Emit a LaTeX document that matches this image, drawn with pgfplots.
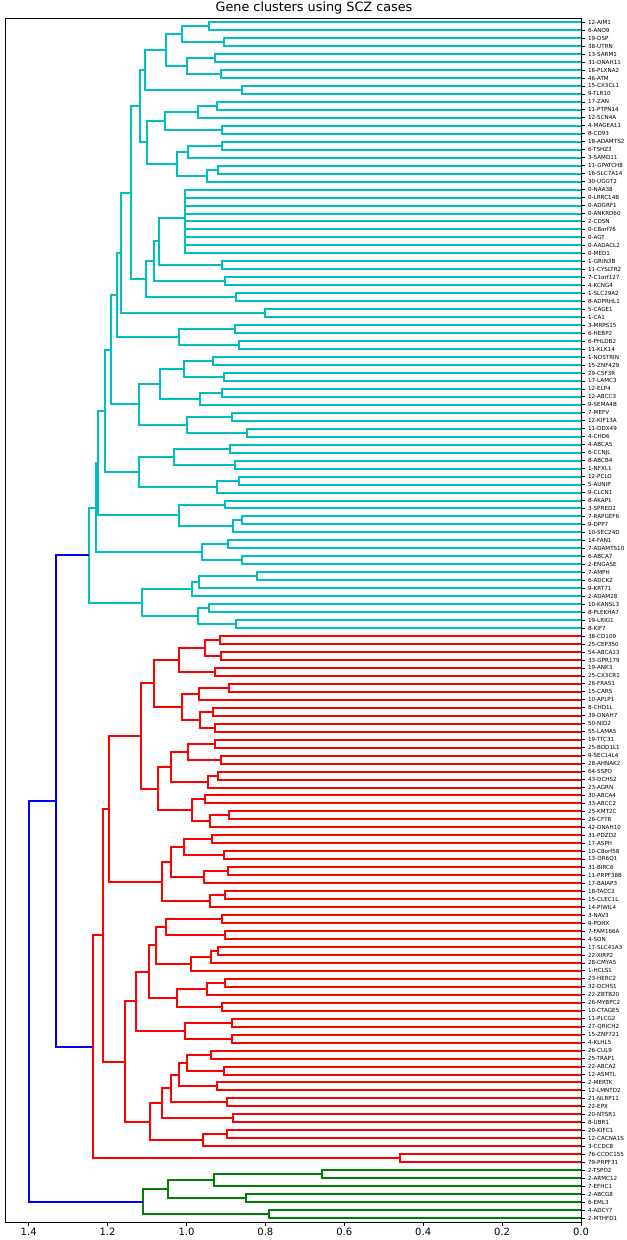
\documentclass[border=0pt]{standalone}
\usepackage{fontspec}
\setmainfont{DejaVu Sans}
\usepackage{pgfplots}
\pgfplotsset{compat=1.18}
\definecolor{dcyan}{rgb}{0,0.75,0.75}
\definecolor{dgreen}{rgb}{0,0.5,0}
\begin{document}
\begin{tikzpicture}
\useasboundingbox (0,0) rectangle (313pt,620pt);
\begin{axis}[
  at={(2.5pt,9pt)}, anchor=south west,
  scale only axis, width=288pt, height=601.9pt,
  x dir=reverse, y dir=reverse,
  xmin=0, xmax=1.46, ymin=0.5, ymax=151.5,
  unbounded coords=jump,
  axis line style={line width=0.4pt},
  tick align=outside, xtick pos=bottom, ytick pos=right,
  major tick length=1.75pt,
  every tick/.style={line width=0.4pt, black},
  xtick={0,0.2,0.4,0.6,0.8,1.0,1.2,1.4},
  /pgf/number format/assume math mode=true,
  xticklabel style={font=\fontsize{5}{6}\selectfont, /pgf/number format/fixed, /pgf/number format/fixed zerofill, /pgf/number format/precision=1, inner sep=1pt},
  ytick={1,...,151},
  yticklabel pos=right,
  yticklabel style={font=\fontsize{2.8}{3}\selectfont, inner sep=0.8pt, xshift=0.8pt},
  yticklabels={12-AIM1,6-ANO9,19-DSP,38-UTRN,13-SARM1,31-DNAH11,16-PLXNA2,46-ATM,15-CX3CL1,9-TLR10,
    17-ZAN,11-PTPN14,12-SCN4A,4-MAGEA11,8-CD93,18-ADAMTS2,6-TSHZ3,3-SAMD11,11-GPATCH8,16-SLC7A14,
    30-UGGT2,0-NAA38,0-LRRC14B,0-ADGRF1,0-ANKRD60,2-CDSN,0-C8orf76,0-AGT,0-AADACL2,0-MED1,
    1-GRIN3B,11-CYSLTR2,7-C1orf127,4-KCNG4,1-SLC29A2,8-ADPRHL1,5-CAGE1,1-CA1,3-MRPS15,6-HEBP2,
    6-PHLDB2,11-KLK14,1-NOSTRIN,15-ZNF429,29-CSF3R,17-LAMC3,12-ELP4,12-ABCC3,9-SEMA4B,7-MEFV,
    12-KIF13A,11-DDX49,4-CHD6,4-ABCA5,6-CCNJL,8-ABCB4,1-NFXL1,12-PCLO,5-AUNIP,9-CLCN1,
    8-AKAP1,3-SPRED2,7-RAPGEF6,9-DPP7,10-SEC24D,14-FAN1,7-ADAMTS10,6-ABCA7,2-ENGASE,7-AMPH,
    6-ADCK2,9-KRT71,2-ADAM28,10-KANSL3,8-PLEKHA7,19-LRIG1,8-KIF7,
    38-CD109,25-CEP350,54-ABCA13,33-GPR179,19-ANK3,25-CX3CR1,26-FRAS1,15-CARS,10-APLP1,8-CHD1L,
    39-DNAH7,50-NID2,55-LAMA5,19-TTC31,25-BOD1L1,9-SEC14L4,28-AHNAK2,64-SSPO,43-DCHS2,23-AGRN,
    30-ABCA4,33-ABCC2,25-KMT2C,26-CFTR,42-DNAH10,31-PDZD2,17-ASPH,10-C8orf58,13-OR6Q1,31-BIRC6,
    11-PRPF38B,17-BAIAP3,18-TACC2,15-CLEC1L,14-PIWIL4,3-NAV3,9-PDHX,7-FAM166A,4-SON,17-SLC41A3,
    22-XIRP2,28-CMYA5,1-HCLS1,23-HERC2,32-DCHS1,22-ZBTB20,26-MYBPC2,10-CTAGE5,11-PLCG2,27-QRICH2,
    15-ZNF721,4-KLHL5,26-CUL9,25-TRAP1,22-ABCA2,12-ASMTL,2-MERTK,12-LMNTD2,21-NLRP11,22-EPX,
    20-NTSR1,8-UBR1,20-KIFC1,12-CACNA1S,3-CCDC8,76-CCDC155,79-PRPF31,
    2-TSPO2,2-ARMC12,7-EFHC1,2-ABCG8,6-EML3,4-ADCY7,2-MTHFD1},
  every axis plot/.append style={line width=1pt, mark=none},
]
% cyan cluster
\addplot[dcyan] coordinates {
(0,1)(0.944,1)(0.944,2)(0,2)(nan,nan)
(0,3)(0.906,3)(0.906,4)(0,4)(nan,nan)
(0.944,1.5)(1.011,1.5)(1.011,3.5)(0.906,3.5)(nan,nan)
(0,5)(0.928,5)(0.928,6)(0,6)(nan,nan)
(0,7)(0.913,7)(0.913,8)(0,8)(nan,nan)
(0.928,5.5)(0.998,5.5)(0.998,7.5)(0.913,7.5)(nan,nan)
(1.011,2.5)(1.051,2.5)(1.051,6.5)(0.998,6.5)(nan,nan)
(0,9)(0.859,9)(0.859,10)(0,10)(nan,nan)
(1.051,4.5)(1.106,4.5)(1.106,9.5)(0.859,9.5)(nan,nan)
(0,11)(0.923,11)(0.923,12)(0,12)(nan,nan)
(0.923,11.5)(0.970,11.5)(0.970,13)(0,13)(nan,nan)
(0,14)(0.910,14)(0.910,15)(0,15)(nan,nan)
(0.970,12.25)(1.055,12.25)(1.055,14.5)(0.910,14.5)(nan,nan)
(0,16)(0.910,16)(0.910,17)(0,17)(nan,nan)
(0.910,16.5)(0.996,16.5)(0.996,18)(0,18)(nan,nan)
(0,19)(0.921,19)(0.921,20)(0,20)(nan,nan)
(0.921,19.5)(0.947,19.5)(0.947,21)(0,21)(nan,nan)
(0.996,17.25)(1.025,17.25)(1.025,20.25)(0.947,20.25)(nan,nan)
(1.055,13.375)(1.101,13.375)(1.101,18.75)(1.025,18.75)(nan,nan)
(1.106,7)(1.119,7)(1.119,16.0625)(1.101,16.0625)(nan,nan)
(0,22)(1.003,22)(1.003,30)(0,30)(nan,nan)
(0,23)(1.003,23)(nan,nan)(0,24)(1.003,24)(nan,nan)(0,25)(1.003,25)(nan,nan)
(0,26)(1.003,26)(nan,nan)(0,27)(1.003,27)(nan,nan)(0,28)(1.003,28)(nan,nan)
(0,29)(1.003,29)(nan,nan)
(0,31)(0.910,31)(0.910,32)(0,32)(nan,nan)
(1.003,25.5)(1.069,25.5)(1.069,31.5)(0.910,31.5)(nan,nan)
(0,33)(0.902,33)(0.902,34)(0,34)(nan,nan)
(1.069,28.5)(1.082,28.5)(1.082,33.5)(0.902,33.5)(nan,nan)
(0,35)(0.875,35)(0.875,36)(0,36)(nan,nan)
(1.082,31)(1.102,31)(1.102,35.5)(0.875,35.5)(nan,nan)
(1.119,11.531)(1.141,11.531)(1.141,33.25)(1.102,33.25)(nan,nan)
(0,37)(0.800,37)(0.800,38)(0,38)(nan,nan)
(1.141,22.391)(1.165,22.391)(1.165,37.5)(0.800,37.5)(nan,nan)
(0,39)(0.877,39)(0.877,40)(0,40)(nan,nan)
(0,41)(0.868,41)(0.868,42)(0,42)(nan,nan)
(0.877,39.5)(1.020,39.5)(1.020,41.5)(0.868,41.5)(nan,nan)
(1.165,29.945)(1.177,29.945)(1.177,40.5)(1.020,40.5)(nan,nan)
(0,43)(0.934,43)(0.934,44)(0,44)(nan,nan)
(0,45)(0.906,45)(0.906,46)(0,46)(nan,nan)
(0.934,43.5)(1.007,43.5)(1.007,45.5)(0.906,45.5)(nan,nan)
(0,47)(0.910,47)(0.910,48)(0,48)(nan,nan)
(0.910,47.5)(0.965,47.5)(0.965,49)(0,49)(nan,nan)
(1.007,44.5)(1.067,44.5)(1.067,48.25)(0.965,48.25)(nan,nan)
(0,50)(0.884,50)(0.884,51)(0,51)(nan,nan)
(0,52)(0.847,52)(0.847,53)(0,53)(nan,nan)
(0.884,50.5)(0.998,50.5)(0.998,52.5)(0.847,52.5)(nan,nan)
(1.067,46.375)(1.120,46.375)(1.120,51.5)(0.998,51.5)(nan,nan)
(1.177,35.223)(1.192,35.223)(1.192,48.938)(1.120,48.938)(nan,nan)
(0,54)(0.890,54)(0.890,55)(0,55)(nan,nan)
(0,56)(0.877,56)(0.877,57)(0,57)(nan,nan)
(0.890,54.5)(1.032,54.5)(1.032,56.5)(0.877,56.5)(nan,nan)
(0,58)(0.868,58)(0.868,59)(0,59)(nan,nan)
(0.868,58.5)(0.923,58.5)(0.923,60)(0,60)(nan,nan)
(1.032,55.5)(1.121,55.5)(1.121,59.25)(0.923,59.25)(nan,nan)
(1.192,42.080)(1.207,42.080)(1.207,57.375)(1.121,57.375)(nan,nan)
(0,61)(0.902,61)(0.902,62)(0,62)(nan,nan)
(0,63)(0.859,63)(0.859,64)(0,64)(nan,nan)
(0.859,63.5)(0.881,63.5)(0.881,65)(0,65)(nan,nan)
(0.902,61.5)(1.018,61.5)(1.018,64.25)(0.881,64.25)(nan,nan)
(1.207,49.728)(1.225,49.728)(1.225,62.875)(1.018,62.875)(nan,nan)
(0,66)(0.895,66)(0.895,67)(0,67)(nan,nan)
(0,68)(0.858,68)(0.858,69)(0,69)(nan,nan)
(0.895,66.5)(0.961,66.5)(0.961,68.5)(0.858,68.5)(nan,nan)
(1.225,56.301)(1.230,56.301)(1.230,67.5)(0.961,67.5)(nan,nan)
(0,70)(0.820,70)(0.820,71)(0,71)(nan,nan)
(0.820,70.5)(0.967,70.5)(0.967,72)(0,72)(nan,nan)
(0.967,71.25)(0.985,71.25)(0.985,73)(0,73)(nan,nan)
(0,74)(0.944,74)(0.944,75)(0,75)(nan,nan)
(0,76)(0.875,76)(0.875,77)(0,77)(nan,nan)
(0.944,74.5)(0.970,74.5)(0.970,76.5)(0.875,76.5)(nan,nan)
(0.985,72.125)(1.113,72.125)(1.113,75.5)(0.970,75.5)(nan,nan)
(1.230,61.901)(1.246,61.901)(1.246,73.813)(1.113,73.813)
};
% red cluster
\addplot[red] coordinates {
(0,78)(0.916,78)(0.916,79)(0,79)(nan,nan)
(0,80)(0.913,80)(0.913,81)(0,81)(nan,nan)
(0.916,78.5)(0.954,78.5)(0.954,80.5)(0.913,80.5)(nan,nan)
(0,82)(0.928,82)(0.928,83)(0,83)(nan,nan)
(0.954,79.5)(1.018,79.5)(1.018,82.5)(0.928,82.5)(nan,nan)
(0,84)(0.893,84)(0.893,85)(0,85)(nan,nan)
(0.893,84.5)(0.969,84.5)(0.969,86)(0,86)(nan,nan)
(0,87)(0.932,87)(0.932,88)(0,88)(nan,nan)
(0,89)(0.928,89)(0.928,90)(0,90)(nan,nan)
(0.932,87.5)(0.965,87.5)(0.965,89.5)(0.928,89.5)(nan,nan)
(0.969,85.25)(1.011,85.25)(1.011,88.5)(0.965,88.5)(nan,nan)
(1.018,81)(1.082,81)(1.082,86.875)(1.011,86.875)(nan,nan)
(0,91)(0.928,91)(0.928,92)(0,92)(nan,nan)
(0,93)(0.913,93)(0.913,94)(0,94)(nan,nan)
(0.928,91.5)(0.996,91.5)(0.996,93.5)(0.913,93.5)(nan,nan)
(0,95)(0.921,95)(0.921,96)(0,96)(nan,nan)
(0.921,95.5)(0.945,95.5)(0.945,97)(0,97)(nan,nan)
(0.996,92.5)(1.038,92.5)(1.038,96.25)(0.945,96.25)(nan,nan)
(0,98)(0.952,98)(0.952,99)(0,99)(nan,nan)
(0,100)(0.893,100)(0.893,101)(0,101)(nan,nan)
(0.893,100.5)(0.941,100.5)(0.941,102)(0,102)(nan,nan)
(0.952,98.5)(0.985,98.5)(0.985,101.25)(0.941,101.25)(nan,nan)
(1.038,94.375)(1.073,94.375)(1.073,99.875)(0.985,99.875)(nan,nan)
(1.082,83.938)(1.114,83.938)(1.114,97.125)(1.073,97.125)(nan,nan)
(0,103)(0.935,103)(0.935,104)(0,104)(nan,nan)
(0,105)(0.906,105)(0.906,106)(0,106)(nan,nan)
(0.935,103.5)(1.007,103.5)(1.007,105.5)(0.906,105.5)(nan,nan)
(0,107)(0.895,107)(0.895,108)(0,108)(nan,nan)
(0.895,107.5)(0.956,107.5)(0.956,109)(0,109)(nan,nan)
(1.007,104.5)(1.040,104.5)(1.040,108.25)(0.956,108.25)(nan,nan)
(0,110)(0.902,110)(0.902,111)(0,111)(nan,nan)
(0.902,110.5)(0.941,110.5)(0.941,112)(0,112)(nan,nan)
(1.040,106.375)(1.062,106.375)(1.062,111.25)(0.941,111.25)(nan,nan)
(1.114,90.531)(1.196,90.531)(1.196,108.813)(1.062,108.813)(nan,nan)
(0,113)(0.910,113)(0.910,114)(0,114)(nan,nan)
(0,115)(0.902,115)(0.902,116)(0,116)(nan,nan)
(0.910,113.5)(1.053,113.5)(1.053,115.5)(0.902,115.5)(nan,nan)
(0,117)(0.919,117)(0.919,118)(0,118)(nan,nan)
(0.919,117.5)(0.938,117.5)(0.938,119)(0,119)(nan,nan)
(0.938,118.25)(0.989,118.25)(0.989,120)(0,120)(nan,nan)
(1.053,114.5)(1.076,114.5)(1.076,119.125)(0.989,119.125)(nan,nan)
(0,121)(0.902,121)(0.902,122)(0,122)(nan,nan)
(0.902,121.5)(0.947,121.5)(0.947,123)(0,123)(nan,nan)
(0,124)(0.910,124)(0.910,125)(0,125)(nan,nan)
(0.947,122.25)(1.023,122.25)(1.023,124.5)(0.910,124.5)(nan,nan)
(1.076,116.813)(1.095,116.813)(1.095,123.375)(1.023,123.375)(nan,nan)
(0,126)(0.884,126)(0.884,127)(0,127)(nan,nan)
(0,128)(0.884,128)(0.884,129)(0,129)(nan,nan)
(0.884,126.5)(1.004,126.5)(1.004,128.5)(0.884,128.5)(nan,nan)
(1.095,120.094)(1.128,120.094)(1.128,127.5)(1.004,127.5)(nan,nan)
(0,130)(0.938,130)(0.938,131)(0,131)(nan,nan)
(0,132)(0.906,132)(0.906,133)(0,133)(nan,nan)
(0.938,130.5)(0.998,130.5)(0.998,132.5)(0.906,132.5)(nan,nan)
(0,134)(0.923,134)(0.923,135)(0,135)(nan,nan)
(0.998,131.5)(1.018,131.5)(1.018,134.5)(0.923,134.5)(nan,nan)
(0,136)(0.897,136)(0.897,137)(0,137)(nan,nan)
(1.018,133)(1.040,133)(1.040,136.5)(0.897,136.5)(nan,nan)
(0,138)(0.881,138)(0.881,139)(0,139)(nan,nan)
(1.040,134.75)(1.062,134.75)(1.062,138.5)(0.881,138.5)(nan,nan)
(0,140)(0.897,140)(0.897,141)(0,141)(nan,nan)
(0.897,140.5)(0.959,140.5)(0.959,142)(0,142)(nan,nan)
(1.062,136.625)(1.092,136.625)(1.092,141.25)(0.959,141.25)(nan,nan)
(1.128,123.797)(1.157,123.797)(1.157,138.938)(1.092,138.938)(nan,nan)
(1.196,99.672)(1.211,99.672)(1.211,131.367)(1.157,131.367)(nan,nan)
(0,143)(0.460,143)(0.460,144)(0,144)(nan,nan)
(1.211,115.520)(1.237,115.520)(1.237,143.5)(0.460,143.5)
};
% green cluster
\addplot[dgreen] coordinates {
(0,145)(0.657,145)(0.657,146)(0,146)(nan,nan)
(0.657,145.5)(0.929,145.5)(0.929,147)(0,147)(nan,nan)
(0,148)(0.850,148)(0.850,149)(0,149)(nan,nan)
(0.929,146.25)(1.046,146.25)(1.046,148.5)(0.850,148.5)(nan,nan)
(0,150)(0.792,150)(0.792,151)(0,151)(nan,nan)
(1.046,147.375)(1.110,147.375)(1.110,150.5)(0.792,150.5)
};
% links above the colour threshold
\addplot[blue] coordinates {
(1.246,67.857)(1.330,67.857)(1.330,129.510)(1.237,129.510)(nan,nan)
(1.330,98.683)(1.400,98.683)(1.400,148.938)(1.110,148.938)
};
\end{axis}
\node[font=\fontsize{6.4}{7.5}\selectfont, anchor=base, inner sep=0pt] at (157pt,614pt) {Gene clusters using SCZ cases};
\end{tikzpicture}
\end{document}
